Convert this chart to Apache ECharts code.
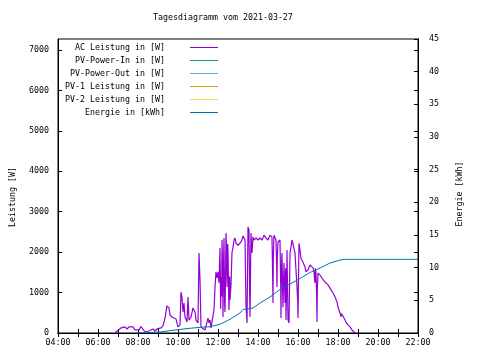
<!DOCTYPE html>
<html>
<head>
<meta charset="utf-8">
<script src="https://cdn.jsdelivr.net/npm/echarts@6/dist/echarts.min.js"></script>
<style>html,body{margin:0;padding:0;background:#fff}#c{width:480px;height:360px}</style>
</head>
<body>
<div id="c"></div>
<script>
const titleText = "Tagesdiagramm vom 2021-03-27";
const seriesNames = ["AC Leistung in [W]", "PV-Power-In in [W]", "PV-Power-Out in [W]", "PV-1 Leistung in [W]", "PV-2 Leistung in [W]", "Energie in [kWh]"];
const seriesColors = ["#9400d3", "#009e73", "#56b4e9", "#e69f00", "#f0e442", "#0072b2"];

const acTimes = ["06:51","06:57","07:03","07:09","07:15","07:21","07:27","07:33","07:39","07:45","07:51","07:57",
"08:03","08:09","08:15","08:21","08:27","08:33","08:39","08:45","08:51","08:57","09:03","09:09","09:15","09:21",
"09:24","09:27","09:30","09:33","09:36","09:42","09:48","09:54","09:57","10:00","10:06","10:09","10:12","10:15",
"10:18","10:21","10:27","10:30","10:33","10:39","10:45","10:51","10:54","11:00","11:03","11:06","11:09","11:15",
"11:21","11:27","11:30","11:33","11:36","11:39","11:45","11:48","11:51","11:54","11:57","12:00","12:03","12:06",
"12:08","12:09","12:11","12:12","12:14","12:15","12:17","12:18","12:20","12:21","12:23","12:24","12:26","12:27",
"12:29","12:30","12:32","12:33","12:35","12:36","12:39","12:42","12:45","12:48",
"12:51","12:54","13:00","13:06","13:12","13:15","13:18","13:21","13:24","13:27","13:30","13:33","13:35","13:36","13:38","13:39",
"13:42","13:45","13:48","13:54","14:00","14:06","14:12","14:18","14:24","14:30","14:36","14:42","14:44","14:45","14:46","14:48",
"14:54","14:56","14:57","14:58","15:00","15:06","15:08","15:09","15:10","15:12","15:14","15:15","15:17","15:18","15:20","15:21","15:23","15:24","15:26","15:27","15:29","15:30","15:33","15:36",
"15:39","15:42","15:48","15:51","15:57","15:59","16:00","16:02","16:03","16:06","16:09","16:15","16:21","16:24","16:27","16:30",
"16:36","16:42","16:45","16:48","16:50","16:51","16:52","16:54","16:56","16:57","16:58","17:00","17:06","17:12","17:21","17:30","17:36","17:45",
"17:51","17:57","18:00","18:03","18:06","18:08","18:09","18:10","18:12","18:15","18:18","18:24","18:30","18:36","18:42","18:48","18:54"];
const acWatts = [0,50,75,125,100,150,100,150,125,150,75,100,
75,160,125,25,50,50,75,100,50,100,75,125,175,370,
520,670,690,620,445,395,370,345,370,150,200,1010,890,520,
740,395,270,890,320,395,620,520,320,250,1980,1310,150,125,
75,100,370,250,320,125,125,570,1140,1510,1360,1510,1240,2100,
600,1380,900,2300,1500,395,1900,2350,700,520,1600,2470,2000,1140,
2200,2050,900,570,1400,815,1190,2000,2100,2300,
2350,2220,2170,2220,2300,2400,2370,2300,690,250,2620,2550,900,395,1800,2470,
1980,2370,2300,2350,2300,2350,2300,2420,2350,2300,2420,2370,1400,740,1900,2420,
2300,1700,1140,1900,2250,2300,1200,370,1500,1980,1000,640,1400,1730,1100,740,1600,320,1200,2050,900,320,250,1980,
2130,2300,2300,1980,1140,800,370,1600,2220,2050,1850,1750,1630,1510,1480,1560,
1680,1680,1610,1510,1300,1240,1600,1480,900,270,1100,1480,1430,1360,1260,1190,1110,990,
890,770,640,570,590,450,395,480,520,490,370,270,200,150,75,25,0];

const energyTimes = ["07:54","08:36","09:06","09:51","10:36","11:06","11:36","12:06","12:36","13:06","13:15","13:45",
"14:06","14:36","15:06","15:36","16:06","16:36","17:06","17:36","18:06","18:21","22:00"];
const energyKWh = [0,0.08,0.15,0.46,0.72,0.87,0.96,1.33,2.10,3.06,3.60,3.83,
4.59,5.51,6.66,7.50,8.34,9.26,9.95,10.71,11.17,11.28,11.28];

const xTickHours = [4, 22, 2];      // min, max, step of labelled ticks
const leftAxisMax = 7270;
const rightAxisMax = 45;

function toHours(t){ const p = t.split(":"); return +p[0] + (+p[1])/60; }
function pairs(ts, vs){ return ts.map((t,i)=>[toHours(t), vs[i]]); }

const FONT = "DejaVu Sans Mono";
const FS = 8.3;
const txt = {fontFamily: FONT, fontSize: FS, color: "#000"};

const chart = echarts.init(document.getElementById('c'), null, {renderer: 'canvas'});
const tickStyle = {show: true, inside: true, length: 4, lineStyle: {color: '#000', width: 1}};
const minorStyle = {show: true, splitNumber: 2, length: 4, lineStyle: {color: '#000', width: 1}};
const axisLine = {show: true, lineStyle: {color: '#000', width: 1}};

const series = seriesNames.map((n, i) => ({
  name: n, type: 'line', showSymbol: false, symbol: 'none', animation: false,
  yAxisIndex: i === 5 ? 1 : 0,
  lineStyle: {width: i === 0 ? 1.2 : 1, color: seriesColors[i]},
  itemStyle: {color: seriesColors[i]},
  data: i === 0 ? pairs(acTimes, acWatts) : (i === 5 ? pairs(energyTimes, energyKWh) : [])
}));

chart.setOption({
  backgroundColor: '#fff',
  animation: false,
  title: {text: titleText, left: 153, top: 13, padding: 0,
    textStyle: Object.assign({fontWeight: 'normal', lineHeight: 10}, txt)},
  legend: {
    data: seriesNames, orient: 'vertical', align: 'right', right: 262, top: 42.5,
    padding: 0, itemGap: 3, itemWidth: 28, itemHeight: 1, icon: 'rect', selectedMode: false,
    textStyle: Object.assign({lineHeight: 10, padding: [0, 20, 0, 0]}, txt)
  },
  grid: {left: 58, right: 62, top: 39, bottom: 27, show: true, borderColor: '#000', borderWidth: 1,
    containLabel: false, outerBoundsMode: 'none'},
  xAxis: [
    {type: 'value', min: xTickHours[0], max: xTickHours[1], interval: xTickHours[2], position: 'bottom',
      axisLine: axisLine, axisTick: tickStyle, minorTick: minorStyle, splitLine: {show: false},
      axisLabel: Object.assign({margin: 6, formatter: v => (v < 10 ? '0' : '') + v + ':00'}, txt)},
    {type: 'value', min: xTickHours[0], max: xTickHours[1], interval: xTickHours[2], position: 'top',
      axisLine: axisLine, axisTick: tickStyle, minorTick: minorStyle, splitLine: {show: false},
      axisLabel: {show: false}}
  ],
  yAxis: [
    {type: 'value', min: 0, max: leftAxisMax, interval: 1000, position: 'left',
      axisLine: axisLine, axisTick: tickStyle, splitLine: {show: false},
      axisLabel: Object.assign({margin: 9, showMaxLabel: false, formatter: v => String(v)}, txt),
      name: 'Leistung [W]', nameLocation: 'middle', nameRotate: 90, nameGap: 40,
      nameTextStyle: Object.assign({lineHeight: 10, padding: [0, 22, 0, 0]}, txt)},
    {type: 'value', min: 0, max: rightAxisMax, interval: 5, position: 'right',
      axisLine: axisLine, axisTick: tickStyle, splitLine: {show: false},
      axisLabel: Object.assign({margin: 11, formatter: v => String(v)}, txt),
      name: 'Energie [kWh]', nameLocation: 'middle', nameRotate: 90, nameGap: 37,
      nameTextStyle: Object.assign({lineHeight: 10, padding: [0, 16, 0, 0]}, txt)},
    {type: 'value', min: 0, max: leftAxisMax, interval: 1000, position: 'right',
      axisLine: axisLine, axisTick: tickStyle, splitLine: {show: false},
      axisLabel: {show: false}}
  ],
  series: series
});
</script>
</body>
</html>
